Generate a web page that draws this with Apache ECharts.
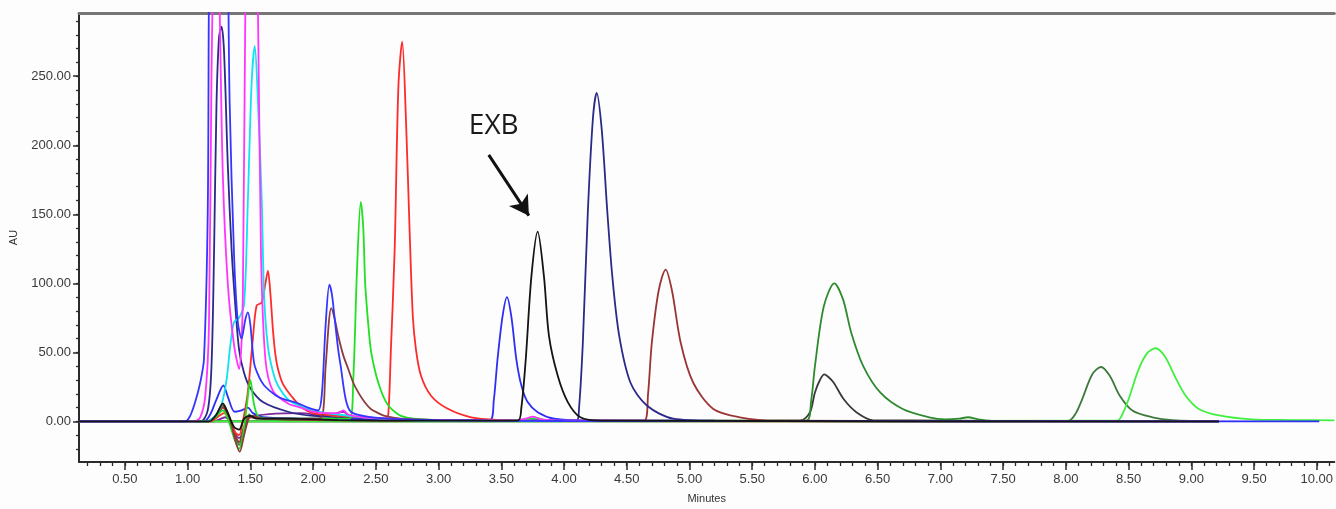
<!DOCTYPE html>
<html>
<head>
<meta charset="utf-8">
<script src="https://cdn.jsdelivr.net/npm/echarts@6/dist/echarts.min.js"></script>
<style>
html,body{margin:0;padding:0;background:#fdfdfd;}
#chromChart{width:1336px;height:509px;}
</style>
</head>
<body>
<div id="chromChart"></div>
<script>
// axis range (minutes / AU)
var xMin = 0.134, xMax = 10.14;
var yMin = -29.4, yMax = 295.8;
var xMajor = [0.5,1.0,1.5,2.0,2.5,3.0,3.5,4.0,4.5,5.0,5.5,6.0,6.5,7.0,7.5,8.0,8.5,9.0,9.5,10.0];
var yMajor = [0,50,100,150,200,250];

// traces: [minutes, AU]
var blue1 = [[0.134,0],[0.98,0],[1.02,4],[1.06,14],[1.10,28],[1.13,45],[1.16,150],[1.18,380],[1.245,470],[1.31,380],[1.335,230],[1.37,120],[1.40,72],[1.43,60],[1.46,74],[1.48,79],[1.50,70],[1.53,42],[1.57,32],[1.61,26],[1.70,19],[1.77,16],[1.87,13.5],[1.96,10],[2.04,8],[2.07,20],[2.10,70],[2.13,99],[2.15,92],[2.17,76],[2.20,52],[2.22,40],[2.26,16],[2.30,7],[2.40,4],[2.60,2],[3.00,1],[3.40,0.5],[4.0,0.3],[9.22,0]];
var brown1 = [[0.134,0],[1.15,0],[1.22,4],[1.28,12],[1.33,4],[1.38,-14],[1.415,-22],[1.45,-10],[1.49,3],[1.52,4],[1.6,2],[1.8,2],[2.0,2],[2.07,3],[2.10,40],[2.145,82],[2.17,75],[2.20,62],[2.24,48],[2.28,38],[2.32,28],[2.36,21],[2.41,14],[2.46,9],[2.52,6],[2.57,4],[2.7,2],[3.0,1],[3.5,0.3],[9.22,0]];
var green1 = [[0.134,0],[1.15,0],[1.22,3],[1.28,8],[1.32,2],[1.37,-12],[1.41,-20],[1.44,-10],[1.47,10],[1.50,30],[1.53,12],[1.57,3],[1.7,2],[2.0,2],[2.29,2],[2.32,30],[2.35,110],[2.38,159],[2.40,140],[2.415,100],[2.44,70],[2.46,52],[2.49,38],[2.52,28],[2.56,18],[2.60,11.5],[2.65,7],[2.70,4],[2.8,2],[3.0,1],[3.5,0.5],[3.7,1.5],[3.78,2.5],[3.85,1],[4.0,0.3],[9.22,0]];
var red1 = [[0.134,0],[1.18,0],[1.25,4],[1.29,6],[1.33,2],[1.38,-8],[1.41,-10],[1.44,0],[1.47,15],[1.49,30],[1.52,60],[1.55,84],[1.59,86],[1.62,100],[1.64,109],[1.66,92],[1.68,66],[1.70,48],[1.72,38],[1.76,27],[1.83,18],[1.91,10],[2.0,6],[2.2,4],[2.4,3],[2.58,2],[2.60,6],[2.62,52],[2.65,124],[2.68,243],[2.71,275],[2.74,219],[2.77,136],[2.795,76],[2.82,52],[2.86,33],[2.94,18.6],[3.07,9.3],[3.26,3],[3.5,1],[3.8,0.3],[9.22,0]];
var blue2 = [[0.134,0],[1.13,0],[1.18,5],[1.23,16],[1.285,26],[1.32,18],[1.375,7],[1.43,8],[1.48,10],[1.52,6],[1.6,3],[2.0,2],[3.0,1],[3.41,1],[3.44,15],[3.47,45],[3.51,76],[3.545,90],[3.58,76],[3.62,45],[3.66,26],[3.71,14],[3.79,6.7],[3.92,2],[4.2,0.5],[10.02,0]];
var blackExb = [[0.134,0],[1.17,0],[1.23,5],[1.28,13],[1.32,6],[1.37,-4],[1.41,-6],[1.45,2],[1.5,4],[1.55,2],[1.8,2],[2.2,1],[3.0,0.5],[3.63,0.5],[3.66,10],[3.695,45],[3.74,105],[3.79,137.5],[3.84,105],[3.88,62],[3.95,33],[4.03,14],[4.13,3],[4.3,0.5],[9.22,0]];
var navy1 = [[0.134,0],[1.10,0],[1.16,8],[1.19,40],[1.21,120],[1.23,230],[1.25,278],[1.27,286],[1.29,268],[1.32,186],[1.35,125],[1.375,90],[1.41,52],[1.45,35],[1.5,24],[1.6,14],[1.8,7],[2.0,4],[2.5,2],[3.0,1],[4.10,0.5],[4.12,10],[4.15,57],[4.19,152],[4.23,219],[4.26,238],[4.30,212],[4.345,152],[4.385,105],[4.44,62],[4.53,28],[4.66,11.5],[4.87,2],[5.2,0.5],[9.22,0]];
var brown2 = [[0.134,0],[1.16,0],[1.23,4],[1.28,10],[1.33,2],[1.38,-10],[1.41,-15],[1.45,-4],[1.5,3],[1.6,2],[2.0,1],[3.0,0.5],[4.64,0.5],[4.67,20],[4.70,57],[4.755,95],[4.81,110],[4.86,95],[4.93,57],[5.03,28],[5.19,9],[5.4,3],[5.7,0.5],[9.22,0]];
var dkGreen1 = [[0.134,0],[1.16,0],[1.23,4],[1.28,11],[1.33,2],[1.38,-11],[1.41,-17],[1.45,-6],[1.49,5],[1.52,3],[1.6,2],[2.0,1],[3.0,0.5],[5.93,0.5],[5.97,15],[6.00,40],[6.07,83],[6.155,100],[6.225,88],[6.29,64],[6.385,40],[6.52,21],[6.70,9],[6.91,3],[7.04,1.5],[7.15,2],[7.22,3],[7.30,1.5],[7.4,0.5],[9.22,0]];
var grey1 = [[0.134,0],[5.88,0.5],[5.96,6.5],[6.0,21],[6.04,30],[6.075,34],[6.11,32],[6.15,28],[6.23,16],[6.33,6.7],[6.46,1],[9.22,0]];
var dkGreen2 = [[0.134,0],[8.02,0.5],[8.08,6],[8.13,16],[8.21,34],[8.28,39.4],[8.35,33],[8.43,18.6],[8.53,7.9],[8.69,3],[8.85,1],[9.22,0]];
var ltGreen = [[0.134,0],[8.41,0.5],[8.45,5],[8.50,16],[8.58,37.7],[8.65,49.6],[8.715,53],[8.79,47],[8.88,30.6],[8.955,18.6],[9.06,9],[9.22,4.3],[9.48,1.5],[9.8,1],[10.14,0.8]];
var magenta1 = [[0.134,0],[1.05,0],[1.10,3],[1.14,18],[1.17,70],[1.19,250],[1.225,420],[1.255,300],[1.28,180],[1.32,100],[1.37,55],[1.41,38],[1.44,90],[1.46,300],[1.51,480],[1.56,300],[1.585,120],[1.62,45],[1.68,22],[1.8,13],[1.9,10],[2.0,7],[2.1,6],[2.2,6],[2.24,8],[2.28,5],[2.4,3],[2.7,1.5],[3.0,1],[3.6,0.7],[3.70,2],[3.75,3.5],[3.82,1.5],[4.0,0.5],[9.22,0]];
var cyan1 = [[0.134,0],[1.15,0],[1.22,4],[1.27,12],[1.31,30],[1.34,55],[1.37,72],[1.41,75],[1.45,85],[1.48,160],[1.51,245],[1.535,272],[1.56,232],[1.59,162],[1.61,90],[1.64,54],[1.68,36],[1.72,26],[1.80,16],[1.90,11],[2.04,7],[2.2,5],[2.4,3],[2.7,1],[3.0,0.5],[9.22,0]];
var purple1 = [[0.134,0],[1.2,0],[1.3,3],[1.41,-12],[1.5,3],[1.9,6],[2.1,4],[2.24,7],[2.3,3],[2.6,1],[9.22,0]];

// EXB annotation (minutes, AU)
var exbText = [3.44, 214];
var exbArrow = [[3.40, 193], [3.72, 149]];

var myChart = echarts.init(document.getElementById('chromChart'));

// minor ticks every 0.1 min / 10 AU
var xMinor = [];
for (var i = 2; i <= 101; i++) xMinor.push(i / 10);
var yMinor = [];
for (var j = -20; j <= 290; j += 10) yMinor.push(j);

function trace(name, data, color, extra) {
    var s = {
        name: name,
        type: 'line',
        data: data,
        showSymbol: false,
        smooth: 0.3,
        silent: true,
        lineStyle: { color: color, width: 1.8 },
        itemStyle: { color: color }
    };
    if (extra) for (var k in extra) s[k] = extra[k];
    return s;
}

var labelFont = 'Liberation Sans, Arial, sans-serif';

var option = {
    backgroundColor: '#fdfdfd',
    animation: false,
    grid: { left: 77, right: 0, top: 13, bottom: 42 },
    xAxis: [
        {
            type: 'value', min: xMin, max: xMax, position: 'bottom',
            name: 'Minutes', nameLocation: 'middle', nameGap: 31,
            nameTextStyle: { fontSize: 11, color: '#333', fontFamily: labelFont },
            axisLine: { onZero: false, lineStyle: { color: '#2b2b2b', width: 2 } },
            axisTick: { customValues: xMajor, length: 8, lineStyle: { color: '#2b2b2b', width: 1.5 } },
            axisLabel: {
                customValues: xMajor, margin: 11, fontSize: 13, color: '#3a3a3a', fontFamily: labelFont,
                formatter: function (v) { return v.toFixed(2); }
            },
            splitLine: { show: false }
        },
        {
            type: 'value', min: xMin, max: xMax, position: 'bottom',
            axisLine: { show: false, onZero: false },
            axisTick: { customValues: xMinor, length: 4, lineStyle: { color: '#2b2b2b', width: 1.3 } },
            axisLabel: { show: false },
            splitLine: { show: false }
        },
        {
            type: 'value', min: xMin, max: xMax, position: 'top',
            axisLine: { onZero: false, lineStyle: { color: '#777', width: 3 } },
            axisTick: { show: false }, axisLabel: { show: false }, splitLine: { show: false }
        }
    ],
    yAxis: [
        {
            type: 'value', min: yMin, max: yMax, position: 'left',
            name: 'AU', nameLocation: 'middle', nameGap: 60, nameRotate: 90,
            nameTextStyle: { fontSize: 11, color: '#333', fontFamily: labelFont },
            axisLine: { onZero: false, lineStyle: { color: '#2b2b2b', width: 2 } },
            axisTick: { customValues: yMajor, length: 6, lineStyle: { color: '#2b2b2b', width: 1.5 } },
            axisLabel: {
                customValues: yMajor, margin: 8, fontSize: 13, color: '#3a3a3a', fontFamily: labelFont,
                formatter: function (v) { return v.toFixed(2); }
            },
            splitLine: { show: false }
        },
        {
            type: 'value', min: yMin, max: yMax, position: 'left',
            axisLine: { show: false, onZero: false },
            axisTick: { customValues: yMinor, length: 3, lineStyle: { color: '#2b2b2b', width: 1.3 } },
            axisLabel: { show: false },
            splitLine: { show: false }
        }
    ],
    series: [
        trace('purple', purple1, '#7a2a9a'),
        trace('grey', grey1, '#3a3a3a'),
        trace('dark green 2', dkGreen2, '#3c7a3c'),
        trace('light green', ltGreen, '#40f040'),
        trace('dark green 1', dkGreen1, '#2e8a2e'),
        trace('brown 2', brown2, '#9a3535'),
        trace('navy', navy1, '#2a2a88'),
        trace('blue 2', blue2, '#2e2ef5'),
        trace('red', red1, '#ff2a2a'),
        trace('green', green1, '#22e022'),
        trace('brown 1', brown1, '#8b3d3d'),
        trace('cyan', cyan1, '#12e2f0'),
        trace('magenta', magenta1, '#ff35ff'),
        trace('blue 1', blue1, '#3535ff'),
        trace('EXB', blackExb, '#141414', {
            markLine: {
                silent: true,
                symbol: ['none', 'arrow'],
                symbolSize: [17, 19],
                label: { show: false },
                lineStyle: { color: '#111', width: 3, type: 'solid' },
                data: [[{ coord: exbArrow[0] }, { coord: exbArrow[1] }]]
            },
            markPoint: {
                silent: true,
                symbol: 'circle',
                symbolSize: 0,
                label: {
                    show: true, position: 'inside', formatter: 'EXB',
                    fontSize: 28, color: '#1a1a1a', fontFamily: 'Open Sans, Noto Sans, sans-serif'
                },
                data: [{ coord: exbText }]
            }
        })
    ]
};

myChart.setOption(option);
</script>
</body>
</html>
